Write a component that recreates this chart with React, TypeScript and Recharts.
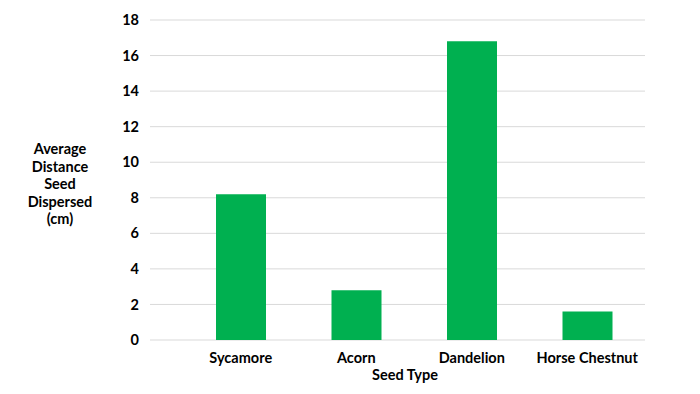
import { BarChart, Bar, XAxis, YAxis, CartesianGrid } from 'recharts'

const seedTypes = ['Sycamore', 'Acorn', 'Dandelion', 'Horse Chestnut']
const avgDistance = [8.2, 2.8, 16.8, 1.6]
const yTicks = [0, 2, 4, 6, 8, 10, 12, 14, 16, 18]
const yTitleLines = ['Average', 'Distance', 'Seed', 'Dispersed', '(cm)']

const data = seedTypes.map((name, i) => ({ name, distance: avgDistance[i] }))

const font = 'Lato, Calibri, "Open Sans", sans-serif'
const tickStyle = { fontSize: 14.5, fontWeight: 700, fill: '#000', fontFamily: font }

function YTitle(props: any) {
  const { viewBox } = props
  const cx = viewBox.x + 60
  const cy = viewBox.y + viewBox.height / 2 + 3
  const lh = 17.5
  const start = cy - ((yTitleLines.length - 1) * lh) / 2
  return (
    <text
      x={cx}
      y={start}
      textAnchor="middle"
      dominantBaseline="central"
      style={tickStyle}
      fill="#000"
    >
      {yTitleLines.map((t, i) => (
        <tspan key={t} x={cx} y={start + i * lh}>
          {t}
        </tspan>
      ))}
    </text>
  )
}

function XTitle(props: any) {
  const { viewBox } = props
  return (
    <text
      x={405}
      y={viewBox.y + 34}
      textAnchor="middle"
      dominantBaseline="central"
      style={tickStyle}
      fill="#000"
    >
      Seed Type
    </text>
  )
}

export default function App() {
  return (
    <div style={{ position: 'absolute', left: 0, top: 0, background: '#fff' }}>
      <BarChart
        width={700}
        height={394}
        data={data}
        margin={{ top: 20, right: 55, left: 0, bottom: 0 }}
        barSize={50}
      >
        <CartesianGrid vertical={false} stroke="#d9d9d9" />
        <XAxis
          dataKey="name"
          axisLine={false}
          tickLine={false}
          tick={tickStyle}
          tickSize={6}
          tickMargin={7}
          height={54}
          padding={{ left: 33, right: 0 }}
          interval={0}
          label={{ content: <XTitle /> }}
        />
        <YAxis
          domain={[0, 18]}
          ticks={yTicks}
          axisLine={false}
          tickLine={false}
          tick={tickStyle}
          tickSize={6}
          tickMargin={5}
          width={150}
          label={{ content: <YTitle /> }}
        />
        <Bar dataKey="distance" fill="#00b050" isAnimationActive={false} />
      </BarChart>
    </div>
  )
}
